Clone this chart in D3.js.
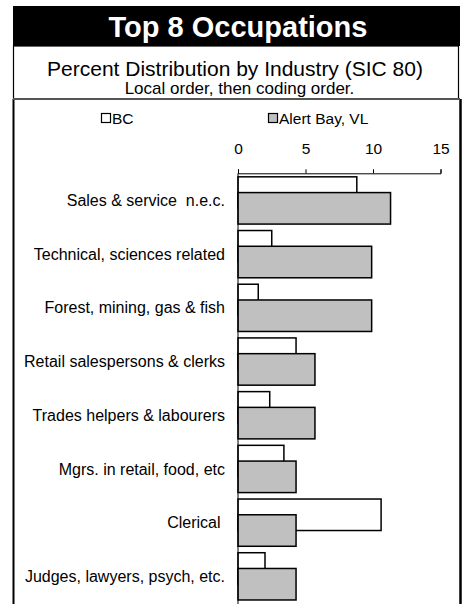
<!DOCTYPE html>
<html><head><meta charset="utf-8">
<script src="https://cdn.jsdelivr.net/npm/d3@7"></script>
<style>
html,body{margin:0;padding:0;background:#fff;}
svg{display:block;font-family:"Liberation Sans",Arial,sans-serif;}
text{white-space:pre;}
</style></head>
<body>
<script>
const categories = ["Sales & service  n.e.c.","Technical, sciences related","Forest, mining, gas & fish","Retail salespersons & clerks","Trades helpers & labourers","Mgrs. in retail, food, etc","Clerical ","Judges, lawyers, psych, etc."];
const bcValues = [8.8, 2.5, 1.5, 4.3, 2.35, 3.4, 10.6, 2.0];
const alertBayValues = [11.3, 9.9, 9.9, 5.7, 5.7, 4.3, 4.3, 4.3];
const seriesNames = ["BC","Alert Bay, VL"];
const xTicks = [0,5,10,15];
const titleText = "Top 8 Occupations";
const subtitleText = "Percent Distribution by Industry (SIC 80)";
const noteText = "Local order, then coding order.";

const W=464,H=604;
const svg=d3.select("body").append("svg").attr("width",W).attr("height",H);

// frame
svg.append("rect").attr("x",13).attr("y",6).attr("width",447).attr("height",40).attr("fill","#000");
svg.append("rect").attr("x",13.5).attr("y",46).attr("width",445).attr("height",53).attr("fill","#fff").attr("stroke","#000").attr("stroke-width",1.2);
svg.append("line").attr("x1",13.5).attr("x2",13.5).attr("y1",99).attr("y2",H+2).attr("stroke","#000").attr("stroke-width",2);
svg.append("line").attr("x1",460.5).attr("x2",460.5).attr("y1",99).attr("y2",H+2).attr("stroke","#000").attr("stroke-width",2.5);
svg.append("line").attr("x1",13).attr("x2",460).attr("y1",99).attr("y2",99).attr("stroke","#555").attr("stroke-width",2);

svg.append("text").attr("x",238).attr("y",36.5).attr("text-anchor","middle").attr("fill","#fff")
  .attr("font-weight","bold").attr("font-size",29).text(titleText);
svg.append("text").attr("x",235).attr("y",75.5).attr("text-anchor","middle").attr("fill","#000")
  .attr("font-size",21).text(subtitleText);
svg.append("text").attr("x",239.5).attr("y",93.5).attr("text-anchor","middle").attr("fill","#000")
  .attr("font-size",17).text(noteText);

// legend
const legendX=[101,268];
const legendFill=["#fff","#c0c0c0"];
seriesNames.forEach((n,i)=>{
  svg.append("rect").attr("x",legendX[i]+0.5).attr("y",113.5).attr("width",9).attr("height",9)
    .attr("fill",legendFill[i]).attr("stroke","#000").attr("stroke-width",1.2);
  svg.append("text").attr("x",legendX[i]+11).attr("y",123.5).attr("font-size",15.5).attr("fill","#000").text(n);
});

// scales
const x=d3.scaleLinear().domain([0,15]).range([238,440.5]);
const y=d3.scaleBand().domain(categories).range([173.6,173.6+53.7*8]).padding(0);
const step=y.step();
const barH=31.5;

const axisY=173.3;
const ax=svg.append("g").attr("transform",`translate(0,${axisY})`)
  .call(d3.axisTop(x).tickValues(xTicks).tickSize(4).tickPadding(15).tickFormat(d3.format("d")));
ax.select(".domain").attr("stroke","#000").attr("stroke-width",1);
ax.selectAll(".tick line").attr("stroke","#000");
ax.selectAll("text").attr("font-size",15.5).attr("font-family","Liberation Sans, Arial, sans-serif").attr("fill","#000");

// bars: BC behind, Alert Bay on top
const g=svg.append("g");
g.selectAll("rect.bc").data(categories).join("rect").attr("class","bc")
  .attr("x",x(0)).attr("y",(d)=>y(d)+step/2-barH*0.75)
  .attr("width",(d,i)=>x(bcValues[i])-x(0)).attr("height",barH)
  .attr("fill","#fff").attr("stroke","#000").attr("stroke-width",1.5);
g.selectAll("rect.ab").data(categories).join("rect").attr("class","ab")
  .attr("x",x(0)).attr("y",(d)=>y(d)+step/2-barH*0.25)
  .attr("width",(d,i)=>x(alertBayValues[i])-x(0)).attr("height",barH)
  .attr("fill","#c0c0c0").attr("stroke","#000").attr("stroke-width",1.5);

// y axis
svg.append("line").attr("x1",x(0)).attr("x2",x(0)).attr("y1",axisY).attr("y2",H).attr("stroke","#000").attr("stroke-width",1);

// category labels
svg.append("g").selectAll("text").data(categories).join("text")
  .attr("x",225).attr("y",d=>y(d)+step/2).attr("dy","0.35em").attr("text-anchor","end")
  .attr("font-size",16).attr("fill","#000").text(d=>d);
</script>
</body></html>
